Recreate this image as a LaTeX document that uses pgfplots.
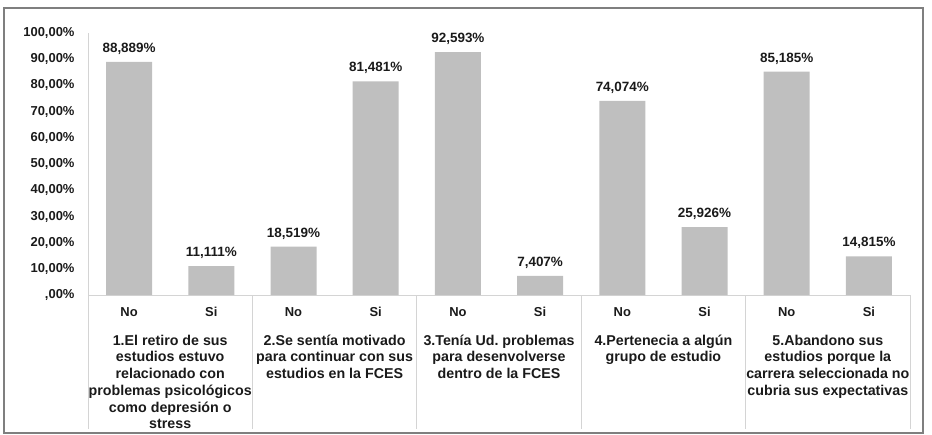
\documentclass[border=0pt]{standalone}
\usepackage{pgfplots}
\pgfplotsset{compat=1.18}
\usepackage{fontspec}
\setmainfont{Liberation Sans}
\frenchspacing
\definecolor{barg}{HTML}{BFBFBF}
\definecolor{lineg}{HTML}{D4D4D4}
\definecolor{frameg}{HTML}{7F7F7F}
\definecolor{txt}{HTML}{1A1A1A}
\begin{document}
\begin{tikzpicture}[x=1bp,y=1bp]
\path[use as bounding box] (0,0) rectangle (932,435);
\draw[frameg, line width=1.2bp] (4,2) rectangle (923,427);
\begin{axis}[
  at={(88bp,139.75bp)}, anchor=south west,
  scale only axis, width=822bp, height=262.5bp,
  xmin=-0.5, xmax=9.5, ymin=0, ymax=100,
  axis x line*=bottom, axis y line*=left,
  axis line style={draw=lineg, line width=1bp, -},
  xtick={0,...,9}, xticklabels={No,Si,No,Si,No,Si,No,Si,No,Si},
  ytick={0,10,...,100},
  yticklabels={{,00\%},{10,00\%},{20,00\%},{30,00\%},{40,00\%},{50,00\%},{60,00\%},{70,00\%},{80,00\%},{90,00\%},{100,00\%}},
  major tick length=0pt,
  tick label style={font=\bfseries\fontsize{13}{15}\selectfont, text=txt},
  yticklabel style={anchor=east, xshift=-10bp},
  xticklabel style={anchor=base, yshift=-21bp},
  /pgf/number format/assume math mode=true,
  clip=false,
  ybar, bar width=46bp,
  nodes near coords={\pgfmathprintnumber[fixed,fixed zerofill,precision=3,use comma]{\pgfplotspointmeta}\%},
  nodes near coords style={font=\bfseries\fontsize{13.5}{15}\selectfont, text=txt, anchor=south, yshift=4bp},
]
\addplot[fill=barg, draw=none] coordinates {(0,88.889) (1,11.111) (2,18.519) (3,81.481) (4,92.593) (5,7.407) (6,74.074) (7,25.926) (8,85.185) (9,14.815)};
\pgfplotsinvokeforeach{-0.5,1.5,3.5,5.5,7.5,9.5}{
  \draw[lineg, line width=1bp] (axis cs:#1,0) -- ([yshift=-134bp]axis cs:#1,0);
}
\tikzset{grp/.style={anchor=north, yshift=-36bp, align=center, text=txt, font=\bfseries\fontsize{14.3}{16.8}\selectfont}}
\node[grp] at (axis cs:0.5,0) {1.El retiro de sus\\estudios estuvo\\relacionado con\\problemas psicológicos\\como depresión o\\stress};
\node[grp] at (axis cs:2.5,0) {2.Se sentía motivado\\para continuar con sus\\estudios en la FCES};
\node[grp] at (axis cs:4.5,0) {3.Tenía Ud. problemas\\para desenvolverse\\dentro de la FCES};
\node[grp] at (axis cs:6.5,0) {4.Pertenecia a algún\\grupo de estudio};
\node[grp] at (axis cs:8.5,0) {5.Abandono sus\\estudios porque la\\carrera seleccionada no\\cubria sus expectativas};
\end{axis}
\end{tikzpicture}
\end{document}
